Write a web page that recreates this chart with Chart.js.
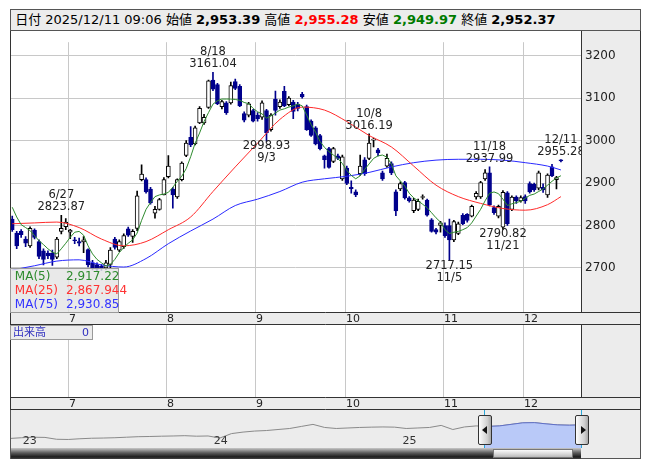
<!DOCTYPE html>
<html>
<head>
<meta charset="utf-8">
<script src="https://cdn.jsdelivr.net/npm/chart.js@4.4.0/dist/chart.umd.min.js"></script>
<style>
  body { margin:0; background:#fff; font-family:"DejaVu Sans","Noto Sans CJK JP",sans-serif; }
  .abs { position:absolute; }
  #hdr { left:10px; top:9px; width:629px; height:20px; background:#ececec; border:1px solid #555;
         font-size:13px; line-height:20px; padding-left:0; white-space:nowrap; overflow:hidden; }
  #hdr b { font-weight:bold; }
  #mainBox { left:10px; top:31px; width:631px; height:294px; }
  #volBox  { left:10px; top:325px; width:631px; height:85px; }
  #navBox  { left:10px; top:410px; width:571px; height:38px; }
  #navSide { left:581px; top:410px; width:59px; height:48px; background:#ececec; border-right:1px solid #555; border-bottom:1px solid #555; }
  #scroll  { left:10px; top:448px; width:571px; height:11px; background:linear-gradient(#c8c8c8,#5a5a5a 45%,#1e1e1e 80%,#444); border-left:1px solid #555; box-sizing:border-box; }
  #thumb   { left:493px; top:449px; width:80px; height:9px; background:linear-gradient(#fafafa,#d6d6d6 60%,#b8b8b8); border:1px solid #777; box-sizing:border-box; }
  .cyan    { top:410px; width:1px; height:38px; background:#2aa6d8; }
  .handle  { top:415px; width:14px; height:30px; box-sizing:border-box; border:1px solid #333; border-radius:2px;
             background:linear-gradient(90deg,#fdfdfd,#d0d0d0 70%,#a8a8a8); }
  .tri     { position:absolute; top:10px; width:0; height:0; border-top:4px solid transparent; border-bottom:4px solid transparent; }
  #maLeg   { left:10px; top:268px; width:107px; height:43px; background:rgba(228,228,228,0.82); border:1px solid #9a9a9a;
             font-size:12px; line-height:14px; }
  #maLeg div { position:relative; height:14px; white-space:nowrap; }
  #maLeg span.v { position:absolute; left:55px; }
  #volLeg  { left:10px; top:325px; width:81px; height:13px; background:#ececec; border:1px solid #9a9a9a;
             font-size:11px; line-height:13px; color:#3030c0; }
</style>
</head>
<body>
<div id="hdr" class="abs"></div>
<div id="mainBox" class="abs"><canvas id="mainChart"></canvas></div>
<div id="volBox" class="abs"><canvas id="volChart"></canvas></div>
<div id="navBox" class="abs"><canvas id="navChart"></canvas></div>
<div id="navSide" class="abs"></div>
<div id="scroll" class="abs"></div>
<div id="thumb" class="abs"></div>
<div class="abs cyan" style="left:484px"></div>
<div class="abs cyan" style="left:581px"></div>
<div class="abs handle" style="left:478px"><div class="tri" style="left:3px;border-right:5px solid #111"></div></div>
<div class="abs handle" style="left:575px"><div class="tri" style="left:5px;border-left:5px solid #111"></div></div>
<div id="maLeg" class="abs"></div>
<div id="volLeg" class="abs"><span style="position:absolute;left:2px">出来高</span><span style="position:absolute;right:3px">0</span></div>

<script>
// ---- data ----
const dates = [
  '6/12','6/13','6/16','6/17','6/18','6/19','6/20','6/23','6/24','6/25','6/26','6/27','6/30',
  '7/1','7/2','7/3','7/4','7/7','7/8','7/9','7/10','7/11','7/14','7/15','7/16','7/17','7/18','7/22','7/23','7/24','7/25','7/28','7/29','7/30','7/31',
  '8/1','8/4','8/5','8/6','8/7','8/8','8/12','8/13','8/14','8/15','8/18','8/19','8/20','8/21','8/22','8/25','8/26','8/27','8/28','8/29',
  '9/1','9/2','9/3','9/4','9/5','9/8','9/9','9/10','9/11','9/12','9/16','9/17','9/18','9/19','9/22','9/24','9/25','9/26','9/29','9/30',
  '10/1','10/2','10/3','10/6','10/7','10/8','10/9','10/10','10/14','10/15','10/16','10/17','10/20','10/21','10/22','10/23','10/24','10/27','10/28','10/29','10/30','10/31',
  '11/4','11/5','11/6','11/7','11/10','11/11','11/12','11/13','11/14','11/17','11/18','11/19','11/20','11/21','11/25','11/26','11/27','11/28',
  '12/1','12/2','12/3','12/4','12/5','12/8','12/9','12/10','12/11'
];
const opens = [
  2815,2782,2786,2768,2752,2789,2762,2740,2735,2735,2725,2786,2797,
  2784,2766,2762,2761,2743,2712,2708,2704,2700,2708,2768,2742,2750,2792,2774,2793,2908,2908,2886,2829,2838,2872,
  2915,2886,2867,2908,2965,3008,2992,3042,3042,3078,3143,3132,3080,3089,3089,3139,3128,3064,3060,3071,
  3060,3055,3071,3026,3098,3080,3116,3085,3091,3086,3109,3080,3046,3030,3012,2964,2981,2951,2964,2910,
  2935,2890,2879,2922,2955,2958,3001,2978,2924,2940,2946,2879,2886,2901,2865,2835,2838,2866,2860,2813,2790,2800,
  2800,2800,2766,2781,2824,2826,2822,2867,2867,2910,2924,2842,2822,2796,2877,2838,2867,2858,
  2868,2899,2897,2888,2890,2872,2938,2908,2953.39
];
const highs = [
  2822,2786,2790,2774,2797,2792,2766,2745,2740,2742,2772,2823.87,2816,
  2791,2772,2770,2774,2745,2718,2712,2708,2718,2748,2772,2766,2780,2796,2790,2881,2943,2912,2890,2845,2864,2913,
  2965,2890,2910,2950,3000,3033,3034,3080,3062,3143,3161.04,3135,3095,3092,3138,3145,3132,3068,3090,3074,
  3066,3094,3074,3064,3117,3096,3128,3104,3095,3090,3114,3084,3049,3033,3015,2966,2984,2984,2968,2966,
  2940,2905,2884,2966,2960,3016.19,3006,2982,2928,2968,2950,2884,2903,2904,2868,2864,2862,2872,2862,2816,2793,2810,
  2806,2815,2812,2808,2828,2828,2848,2880,2904,2932,2937.99,2846,2848,2882,2880,2870,2870,2870,
  2872,2903,2900,2928,2898,2922,2944,2916,2955.28
];
const lows = [
  2786,2745,2772,2750,2748,2768,2722,2707,2722,2706,2722,2780,2790,
  2769,2757,2752,2736,2702,2695,2693,2694,2696,2700,2744,2738,2746,2774,2760,2788,2905,2876,2850,2817,2836,2872,
  2912,2841,2864,2905,2962,2986,2990,3040,3038,3076,3118,3085,3075,3062,3086,3120,3080,3044,3056,3044,
  3046,3050,2998.93,3022,3060,3076,3080,3082,3052,3070,3100,3024,3010,2990,2978,2935,2935,2948,2955,2906,
  2896,2876,2868,2918,2918,2955,2985,2964,2906,2937,2920,2823,2882,2862,2855,2830,2835,2862,2822,2784,2780,2784,
  2772,2717.15,2762,2778,2802,2808,2820,2862,2864,2906,2846,2826,2818,2790.82,2800,2835,2852,2855,
  2852,2876,2880,2884,2878,2866,2915,2886,2949.97
];
const closes = [
  2790,2752,2778,2758,2793,2772,2727,2720,2728,2720,2768,2793,2808,
  2789,2764,2758,2766,2707,2700,2697,2700,2712,2742,2748,2762,2776,2777,2786,2870,2921,2879,2853,2838,2861,2908,
  2940,2872,2908,2947,2994,2990,3030,3076,3055,3141,3121,3087,3092,3066,3130,3123,3082,3048,3087,3046,
  3052,3089,3019,3060,3071,3091,3082,3100,3069,3076,3103,3026,3012,2992,2981,2955,2937,2981,2958,2962,
  2899,2887,2872,2940,2922,2994,3003,2971,2910,2958,2924,2834,2899,2865,2858,2860,2857,2867,2824,2786,2784,2806,
  2776,2766,2809,2804,2804,2812,2845,2876,2901,2924,2849,2830,2845,2878,2804,2867,2858,2866,
  2858,2879,2884,2924,2884,2919,2917,2913,2952.37
];
const ma5 = [
  2843,2820,2802,2795,2788,2776,2764,2755,2745,2737,2733,2745,2758,
  2772,2784,2786,2777,2752,2733,2720,2712,2704,2708,2720,2736,2748,2758,2766,2782,2812,2838,2854,2868,2872,2874,
  2878,2890,2904,2916,2934,2962,2994,3018,3045,3066,3086,3094,3098,3098,3098,3097,3095,3090,3087,3076,
  3068,3063,3053,3058,3065,3072,3075,3079,3082,3086,3082,3060,3038,3020,2998,2984,2974,2966,2958,2946,
  2930,2918,2910,2917,2932,2945,2958,2964,2966,2961,2945,2917,2905,2893,2876,2865,2858,2850,2842,2830,2818,2808,
  2790,2781,2784,2786,2790,2795,2806,2822,2838,2858,2876,2879,2875,2862,2847,2851,2854,2857,
  2864,2871,2874,2880,2886,2895,2904,2912,2917.22
];
// MA(25) / MA(75) read at every 5th bar: [bar index, value]
const ma25Pts = [[0,2804],[5,2806],[10,2808],[15,2795],[20,2768],[25,2752],[30,2762],[35,2790],[40,2820],
  [45,2880],[50,2938],[55,2994],[60,3050],[65,3079],[70,3072],[75,3045],[80,3012],[85,2985],[90,2940],
  [95,2895],[100,2868],[105,2852],[110,2840],[115,2836],[120,2849],[123,2867.944]];
const ma75Pts = [[0,2695],[5,2705],[10,2716],[15,2719],[20,2707],[25,2702],[30,2722],[35,2757],[40,2787],
  [45,2815],[50,2847],[55,2862],[60,2880],[65,2902],[70,2910],[75,2916],[80,2925],[85,2938],[90,2948],
  [95,2954],[100,2956],[105,2956],[110,2954],[115,2948],[120,2940],[123,2930.85]];
const priceTicks = [2700, 2800, 2900, 3000, 3100, 3200];
// labelled highs / lows
const annoIdx  = [11, 45, 57, 80, 98, 107, 110, 123];
const annoHigh = [true, true, false, true, false, true, false, true];
// overview strip (long history), read every ~11.6px
const navLevels = [2058,2100,2130,2118,2010,1998,2040,2070,2082,2100,2130,2160,2172,2190,2202,2220,2190,2202,
  2082,2340,2430,2490,2520,2580,2640,2760,2880,2700,2640,2670,2700,2718,2730,2718,2640,2670,2700,2820,2580,
  2730,2790,2760,2790,2880,2970,2982,2910,2850,2832,2850];
const navYears = ['23', '24', '25'];
const navYearIdx = [1, 17.4, 33.6];
const navWinFrom = 40.7;
const quote = { date:'2025/12/11 09:06', open:'2,953.39', high:'2,955.28', low:'2,949.97', close:'2,952.37' };
const maLegend = [['MA(5)','2,917.22','#2e8b2e'], ['MA(25)','2,867.944','#ff3333'], ['MA(75)','2,930.85','#3333ff']];

// ---- html bits ----
const FONT = '"DejaVu Sans","Noto Sans CJK JP",sans-serif';
const NAVY = '#00008c';
document.getElementById('hdr').innerHTML =
  '&nbsp;日付 ' + quote.date + ' 始値 <b>' + quote.open + '</b> 高値 <b style="color:#ff0000">' + quote.high +
  '</b> 安値 <b style="color:#007a00">' + quote.low + '</b> 終値 <b>' + quote.close + '</b>';
document.getElementById('maLeg').innerHTML = maLegend.map(m =>
  '<div style="color:' + m[2] + '">&nbsp;' + m[0] + '<span class="v">' + m[1] + '</span></div>').join('');

const labels = dates.concat(['', '', '', '']);   // empty slots to the right
const monthStarts = [];
dates.forEach((d, i) => { if (i > 0 && d.split('/')[0] !== dates[i-1].split('/')[0]) monthStarts.push(i); });

// gray side panel, date strip, month grid, borders
function framePlugin(name) {
  return {
    id: 'frame' + name,
    beforeDraw(chart) {
      const { ctx, chartArea: a, width: w, height: h } = chart;
      const xs = chart.scales.x;
      const step = xs.getPixelForValue(1) - xs.getPixelForValue(0);
      ctx.save();
      ctx.fillStyle = '#fff'; ctx.fillRect(0, 0, a.right, a.bottom);
      ctx.fillStyle = '#ececec';
      ctx.fillRect(a.right, 0, w - a.right, a.bottom);
      ctx.fillRect(0, a.bottom, w, h - a.bottom);
      ctx.strokeStyle = '#c8c8c8'; ctx.lineWidth = 1;
      monthStarts.forEach(i => {
        const x = Math.round(xs.getPixelForValue(i) - step / 2) + 0.5;
        ctx.beginPath(); ctx.moveTo(x, a.top); ctx.lineTo(x, a.bottom); ctx.stroke();
      });
      ctx.restore();
    },
    afterDraw(chart) {
      const { ctx, chartArea: a, width: w, height: h } = chart;
      const xs = chart.scales.x;
      const step = xs.getPixelForValue(1) - xs.getPixelForValue(0);
      ctx.save();
      ctx.fillStyle = '#222'; ctx.font = '11px ' + FONT;
      ctx.textAlign = 'left'; ctx.textBaseline = 'middle';
      monthStarts.forEach(i => {
        const x = Math.round(xs.getPixelForValue(i) - step / 2) + 1;
        ctx.fillText(dates[i].split('/')[0], x, a.bottom + (h - a.bottom) / 2 + 0.5);
      });
      ctx.strokeStyle = '#333'; ctx.lineWidth = 1;
      ctx.beginPath();
      ctx.moveTo(0.5, 0); ctx.lineTo(0.5, h);
      ctx.moveTo(a.right + 0.5, 0); ctx.lineTo(a.right + 0.5, a.bottom);
      ctx.moveTo(w - 0.5, 0); ctx.lineTo(w - 0.5, h);
      ctx.moveTo(0, a.bottom + 0.5); ctx.lineTo(w, a.bottom + 0.5);
      ctx.moveTo(0, h - 0.5); ctx.lineTo(w, h - 0.5);
      ctx.stroke();
      ctx.restore();
    }
  };
}

// high / low labels
const annoPlugin = {
  id: 'anno',
  afterDatasetsDraw(chart) {
    const { ctx, chartArea: a, scales: { x, y } } = chart;
    ctx.save();
    ctx.beginPath(); ctx.rect(a.left, a.top, a.right - a.left, a.bottom - a.top); ctx.clip();
    ctx.fillStyle = '#222'; ctx.font = '11.5px ' + FONT;
    ctx.textAlign = 'center'; ctx.textBaseline = 'middle';
    annoIdx.forEach((i, k) => {
      const px = x.getPixelForValue(i);
      if (annoHigh[k]) {
        const py = y.getPixelForValue(highs[i]);
        ctx.fillText(dates[i], px, py - 20);
        ctx.fillText(highs[i].toFixed(2), px, py - 8);
      } else {
        const py = y.getPixelForValue(lows[i]);
        ctx.fillText(lows[i].toFixed(2), px, py + 5);
        ctx.fillText(dates[i], px, py + 17);
      }
    });
    ctx.restore();
  }
};

const up = dates.map((d, i) => closes[i] >= opens[i]);
const bodyData = dates.map((d, i) => [Math.min(opens[i], closes[i]), Math.max(opens[i], closes[i])]);
const wickData = dates.map((d, i) => [lows[i], highs[i]]);
const toPts = arr => arr.map(p => ({ x: dates[p[0]], y: p[1] }));

const xScale = {
  type: 'category', labels: labels, offset: true,
  grid: { display: false }, border: { display: false }, ticks: { display: false },
  afterFit(s) { s.height = 13; }
};

new Chart(document.getElementById('mainChart'), {
  type: 'bar',
  data: {
    labels: labels,
    datasets: [
      { type: 'line', data: ma5, borderColor: '#2e8b2e', borderWidth: 1, pointRadius: 0, order: 0 },
      { type: 'line', data: toPts(ma25Pts), borderColor: '#ff2a2a', borderWidth: 1, pointRadius: 0, spanGaps: true,
        cubicInterpolationMode: 'monotone', order: 0 },
      { type: 'line', data: toPts(ma75Pts), borderColor: '#2a2aff', borderWidth: 1, pointRadius: 0, spanGaps: true,
        cubicInterpolationMode: 'monotone', order: 0 },
      { data: bodyData, grouped: false, barThickness: 4, borderWidth: 1, borderSkipped: false, minBarLength: 1,
        backgroundColor: up.map(u => u ? '#fff' : NAVY), borderColor: up.map(u => u ? '#000' : NAVY), order: 1 },
      { data: wickData, grouped: false, barThickness: 1, borderWidth: 0,
        backgroundColor: up.map(u => u ? '#000' : NAVY), order: 2 }
    ]
  },
  options: {
    responsive: true, maintainAspectRatio: false, animation: false,
    layout: { padding: 0, autoPadding: false },
    plugins: { legend: { display: false }, tooltip: { enabled: false } },
    scales: {
      x: xScale,
      y: {
        position: 'right', min: 2596, max: 3232,
        afterFit(s) { s.width = 60; },
        afterBuildTicks(s) { s.ticks = priceTicks.map(v => ({ value: v })); },
        grid: { color: '#c8c8c8', drawTicks: false }, border: { display: false },
        ticks: { color: '#222', padding: 4, font: { size: 12, family: FONT }, callback: v => String(v) }
      }
    }
  },
  plugins: [framePlugin('main'), annoPlugin]
});

new Chart(document.getElementById('volChart'), {
  type: 'bar',
  data: { labels: labels, datasets: [] },
  options: {
    responsive: true, maintainAspectRatio: false, animation: false,
    layout: { padding: 0, autoPadding: false },
    plugins: { legend: { display: false }, tooltip: { enabled: false } },
    scales: {
      x: xScale,
      y: { position: 'right', min: 0, max: 1, afterFit(s) { s.width = 60; },
           grid: { display: false }, border: { display: false }, ticks: { display: false } }
    }
  },
  plugins: [framePlugin('vol')]
});

const navPlugin = {
  id: 'nav',
  beforeDraw(chart) {
    const { ctx, width: w, height: h } = chart;
    ctx.save(); ctx.fillStyle = '#ececec'; ctx.fillRect(0, 0, w, h); ctx.restore();
  },
  afterDatasetsDraw(chart) {
    const { ctx, width: w, height: h } = chart;
    const pts = chart.getDatasetMeta(0).data;
    const x0 = chart.scales.x.getPixelForValue(navWinFrom);
    ctx.save();
    ctx.beginPath(); ctx.rect(x0, 0, w - x0, h); ctx.clip();
    ctx.beginPath();
    pts.forEach((p, i) => i ? ctx.lineTo(p.x, p.y) : ctx.moveTo(p.x, p.y));
    ctx.lineTo(pts[pts.length - 1].x, h); ctx.lineTo(pts[0].x, h); ctx.closePath();
    ctx.fillStyle = '#b9c9f8'; ctx.fill();
    ctx.beginPath();
    pts.forEach((p, i) => i ? ctx.lineTo(p.x, p.y) : ctx.moveTo(p.x, p.y));
    ctx.strokeStyle = '#6070c8'; ctx.lineWidth = 1; ctx.stroke();
    ctx.restore();
    ctx.save();
    ctx.fillStyle = '#333'; ctx.font = '11px ' + FONT; ctx.textBaseline = 'middle';
    navYears.forEach((t, k) => ctx.fillText(t, chart.scales.x.getPixelForValue(navYearIdx[k]) + 1, 31));
    ctx.strokeStyle = '#555'; ctx.beginPath(); ctx.moveTo(0.5, 0); ctx.lineTo(0.5, h); ctx.stroke();
    ctx.restore();
  }
};

new Chart(document.getElementById('navChart'), {
  type: 'line',
  data: { labels: navLevels.map((v, i) => i),
          datasets: [{ data: navLevels, borderColor: '#8a8a8a', borderWidth: 1, pointRadius: 0 }] },
  options: {
    responsive: true, maintainAspectRatio: false, animation: false,
    layout: { padding: 0, autoPadding: false },
    plugins: { legend: { display: false }, tooltip: { enabled: false } },
    scales: {
      x: { display: false, offset: false },
      y: { display: false, min: 1500, max: 3720 }
    }
  },
  plugins: [navPlugin]
});
</script>
</body>
</html>
